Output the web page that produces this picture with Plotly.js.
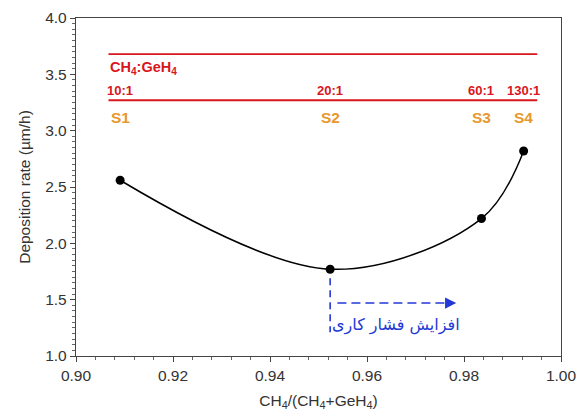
<!DOCTYPE html>
<html>
<head>
<meta charset="utf-8">
<script src="https://cdn.plot.ly/plotly-3.0.1.min.js"></script>
<style>html,body{margin:0;padding:0;background:#fff;}#chart{width:582px;height:420px;}</style>
</head>
<body>
<div id="chart"></div>
<script>
// Data
const ratioX = [0.9091, 0.9524, 0.9836, 0.9923];
const depositionRate = [2.56, 1.77, 2.22, 2.82];
const sampleLabels = ['S1', 'S2', 'S3', 'S4'];
const ratioLabels = ['10:1', '20:1', '60:1', '130:1'];
const xTicks = [0.90, 0.92, 0.94, 0.96, 0.98, 1.00];
const yTicks = [1.0, 1.5, 2.0, 2.5, 3.0, 3.5, 4.0];
const persianNote = 'افزایش فشار کاری';

const red = '#d9161e';
const orange = '#e8982c';
const blue = '#2438d6';
const baseFont = 'Liberation Sans, Arial, sans-serif';

const trace = {
  x: ratioX, y: depositionRate,
  type: 'scatter', mode: 'lines+markers',
  line: {color: '#000', width: 1.5, shape: 'spline', smoothing: 1},
  marker: {color: '#000', size: 9},
  hoverinfo: 'skip'
};

const annotations = [];
annotations.push({
  x: 0.9067, y: 3.56, xref: 'x', yref: 'y', xanchor: 'left', yanchor: 'middle',
  text: '<b>CH<sub>4</sub>:GeH<sub>4</sub></b>', showarrow: false,
  font: {family: baseFont, size: 14.5, color: red}
});
ratioLabels.forEach((t, i) => annotations.push({
  x: ratioX[i], y: 3.36, xref: 'x', yref: 'y', xanchor: 'center', yanchor: 'middle',
  text: '<b>' + t + '</b>', showarrow: false,
  font: {family: baseFont, size: 13, color: red}
}));
sampleLabels.forEach((t, i) => annotations.push({
  x: ratioX[i], y: 3.12, xref: 'x', yref: 'y', xanchor: 'center', yanchor: 'middle',
  text: '<b>' + t + '</b>', showarrow: false,
  font: {family: baseFont, size: 15.5, color: orange}
}));
// arrow head
annotations.push({
  x: 0.9784, y: 1.47, ax: 0.9760, ay: 1.47, xref: 'x', yref: 'y', axref: 'x', ayref: 'y',
  text: '', showarrow: true, arrowhead: 2, arrowsize: 1.4, arrowwidth: 1.6, arrowcolor: blue
});
annotations.push({
  x: 0.9659, y: 1.275, xref: 'x', yref: 'y', xanchor: 'center', yanchor: 'middle',
  text: persianNote, showarrow: false,
  font: {family: 'DejaVu Sans, Noto Sans, sans-serif', size: 16, color: blue}
});

const shapes = [
  {type: 'line', xref: 'x', yref: 'y', x0: 0.9067, x1: 0.9951, y0: 3.68, y1: 3.68, line: {color: red, width: 1.8}},
  {type: 'line', xref: 'x', yref: 'y', x0: 0.9067, x1: 0.9951, y0: 3.27, y1: 3.27, line: {color: red, width: 1.8}},
  {type: 'line', xref: 'x', yref: 'y', x0: ratioX[1], x1: ratioX[1], y0: 1.69, y1: 1.21, line: {color: blue, width: 1.6, dash: '7px,5px'}},
  {type: 'line', xref: 'x', yref: 'y', x0: 0.9539, x1: 0.9772, y0: 1.47, y1: 1.47, line: {color: blue, width: 1.6, dash: '9px,5px'}}
];

const layout = {
  width: 582, height: 420,
  margin: {l: 76, r: 21, t: 18, b: 64},
  paper_bgcolor: '#fff', plot_bgcolor: '#fff',
  showlegend: false,
  font: {family: baseFont, size: 16, color: '#333'},
  xaxis: {
    range: [0.90, 1.00], tickvals: xTicks, tickformat: '.2f',
    showgrid: false, zeroline: false,
    showline: true, linecolor: '#444', linewidth: 1.2, mirror: true,
    ticks: 'outside', ticklen: 5, tickcolor: '#444',
    minor: {dtick: 0.004, ticks: 'outside', ticklen: 3, tickcolor: '#666'},
    tickfont: {size: 15.5, color: '#333'},
    title: {text: 'CH<sub>4</sub>/(CH<sub>4</sub>+GeH<sub>4</sub>)', font: {size: 15.5, color: '#333'}, standoff: 12}
  },
  yaxis: {
    range: [1.0, 4.0], tickvals: yTicks, tickformat: '.1f',
    showgrid: false, zeroline: false,
    showline: true, linecolor: '#444', linewidth: 1.2, mirror: true,
    ticks: 'outside', ticklen: 5, tickcolor: '#444',
    minor: {dtick: 0.05, ticks: 'outside', ticklen: 3, tickcolor: '#666'},
    tickfont: {size: 15.5, color: '#333'},
    title: {text: 'Deposition rate (µm/h)', font: {size: 15.5, color: '#333'}, standoff: 10}
  },
  annotations: annotations,
  shapes: shapes
};

Plotly.newPlot('chart', [trace], layout, {staticPlot: true, displayModeBar: false});
</script>
</body>
</html>
